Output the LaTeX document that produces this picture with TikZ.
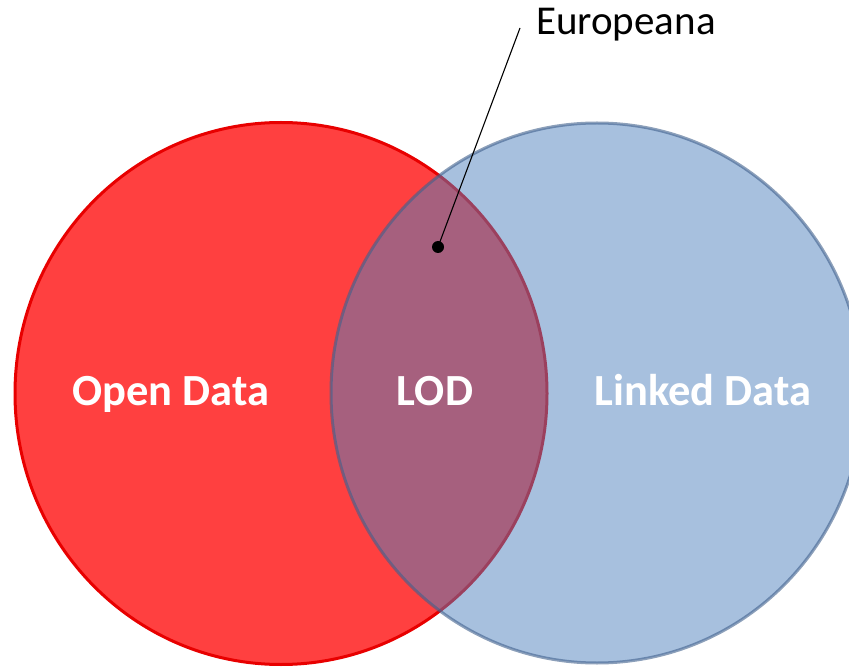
\documentclass[tikz,border=0pt]{standalone}
\usepackage{fontspec}
\setmainfont{Carlito}
\usetikzlibrary{calc}
\definecolor{redfill}{RGB}{255,64,64}
\definecolor{redline}{RGB}{232,0,0}
\definecolor{bluebase}{RGB}{79,129,189}
\definecolor{blueline}{RGB}{64,96,140}
\tikzset{
  setlabel/.style={text=white,font=\bfseries\fontsize{44.5}{50}\selectfont,inner sep=0pt,anchor=base},
  calloutlabel/.style={text=black,font=\fontsize{41}{48}\selectfont,inner sep=0pt,anchor=base west},
}
\begin{document}
\begin{tikzpicture}[x=1pt,y=1pt]
\useasboundingbox (0,0) rectangle (849,-668);
% red set
\draw[fill=redfill,draw=redline,line width=3pt] (281,-393.5) ellipse [x radius=266, y radius=271];
% blue set (semi-transparent)
\fill[bluebase,fill opacity=0.5] (597,-393) ellipse [x radius=266, y radius=270];
\draw[blueline,draw opacity=0.6,line width=3pt] (597,-393) ellipse [x radius=266, y radius=270];
% labels
\node[setlabel] (open) at (171,-406) {Open Data};
\node[setlabel] (lod) at (435,-406) {LOD};
\node[setlabel] (linked) at (703,-406) {Linked Data};
% callout
\node[calloutlabel] (europeana) at (536,-35) {Europeana};
\coordinate (lineend) at (520,-28);
\node[circle,fill=black,inner sep=0pt,minimum size=12pt] (dot) at (438,-247) {};
\draw[line width=1.1pt] (dot.center) -- (lineend);
\end{tikzpicture}
\end{document}
